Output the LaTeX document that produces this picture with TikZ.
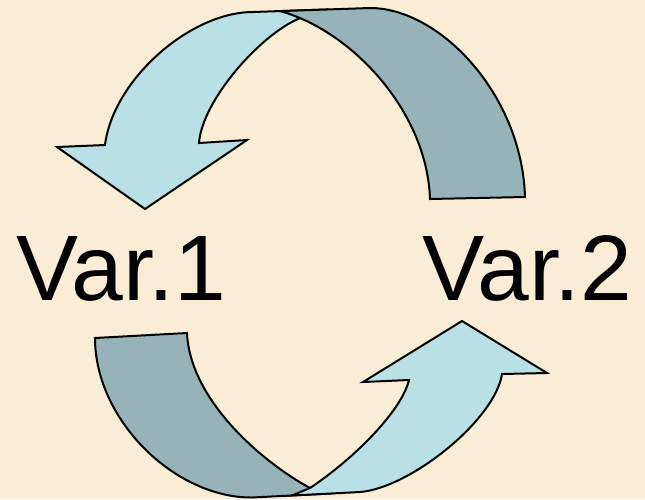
\documentclass[tikz,border=0pt]{standalone}
\usepackage{fontspec}
\setmainfont{Liberation Sans}
\definecolor{paper}{HTML}{F9EED5}
\definecolor{ribbonlight}{HTML}{B9E0E4}
\definecolor{ribbondark}{HTML}{96B3B7}
\begin{document}
\begin{tikzpicture}[x=1pt,y=-1pt,
  ribbon/.style={draw=black,line width=2pt,line join=miter},
  front/.style={ribbon,fill=ribbonlight},
  back/.style={ribbon,fill=ribbondark},
  varlabel/.style={inner sep=0pt,anchor=base west,font=\fontsize{93}{93}\selectfont}]
\fill[paper] (0,0) rectangle (645,499);
\useasboundingbox (0,0) rectangle (645,499);

% upper curved arrow: light head part, then the dark back part laid over it
\draw[front] (253,12) .. controls (190,12) and (113,80) .. (105,145)
  -- (57,147) -- (145,209) -- (247,140) -- (199,143)
  .. controls (202,100) and (263,31) .. (303,17) -- (323,9.6) -- cycle;
\draw[back] (280,11.1) -- (370,8) .. controls (440,8) and (522,95) .. (525,197)
  -- (430,199) .. controls (427,110) and (350,30) .. (280,11.1) -- cycle;

% lower curved arrow: dark back part, then the light head part over it
\draw[back] (95,338) -- (187,333) .. controls (190,400) and (262,462) .. (310,488)
  -- (328,493.6) -- (252,497.5) .. controls (175,498) and (95,420) .. (95,338) -- cycle;
\draw[front] (292,495.5) -- (360,492) .. controls (410,488) and (495,420) .. (502,374)
  -- (547,373) -- (462,321) -- (363,382) -- (409,380)
  .. controls (402,410) and (355,458) .. (310,488) -- cycle;

% variable labels
\node[varlabel] (v1) at (16,300) {Var.1};
\node[varlabel] (v2) at (422,300) {Var.2};
\end{tikzpicture}
\end{document}
